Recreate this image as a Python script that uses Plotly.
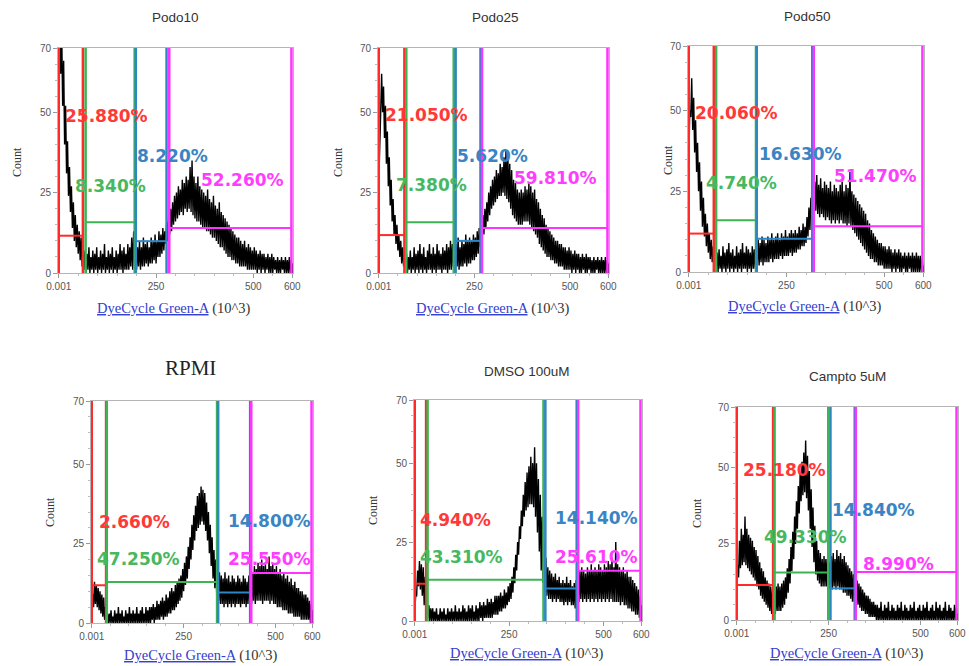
import plotly.graph_objects as go

# ---------------- data ----------------
# Each histogram is described by the lower and upper envelope of its noisy
# trace in bins of 5 (x 10^3) DyeCycle Green-A units, starting at 0.
bin_width = 5

podo10_low = [70, 62, 52, 40, 31, 24, 19, 14, 10, 8, 6, 4, 2, 1,
              0, 1, 0, 1, 0, 1, 0, 1, 0, 1, 0, 1, 0, 1, 0, 1, 0, 1, 1, 0, 1, 1, 1, 2, 1, 2,
              1, 2, 1, 2, 2, 3, 2, 3, 3, 4, 3, 5, 5, 6, 7, 9,
              10, 12, 13, 15, 16, 17, 18, 19, 18, 20, 19, 20, 19, 18, 17, 16, 16, 15, 14, 14,
              13, 13, 12, 11, 11, 10, 9, 8, 8, 7, 6, 5, 5, 4, 4, 3, 3, 2, 2, 2, 2, 1, 1, 1,
              1, 1, 0, 1, 0, 1, 0, 1, 0, 0, 0, 1, 0, 0, 0, 1, 0, 0, 0, 0, 0]
podo10_high = [80, 75, 66, 52, 41, 33, 27, 22, 18, 15, 13, 11, 9, 7,
               6, 8, 5, 7, 6, 8, 5, 7, 6, 9, 5, 7, 6, 8, 5, 7, 6, 9, 7, 8, 6, 9, 8, 11, 13, 9,
               8, 10, 8, 11, 9, 10, 8, 11, 10, 12, 10, 13, 12, 14, 13, 16,
               18, 20, 22, 24, 25, 27, 26, 29, 28, 30, 29, 33, 35, 30, 28, 30, 27, 26, 25, 24,
               26, 23, 22, 24, 21, 20, 22, 19, 18, 17, 16, 15, 14, 13, 12, 11, 11, 10, 9, 10,
               8, 9, 8, 7, 8, 7, 6, 7, 6, 6, 5, 6, 5, 6, 5, 4, 5, 4, 5, 4, 5, 4, 5, 4, 3]

podo25_low = [28, 50, 50, 42, 34, 27, 21, 16, 12, 9, 7, 5, 3, 2, 1, 0,
              1, 0, 1, 0, 1, 0, 1, 0, 1, 0, 1, 1, 0, 1, 0, 1, 1, 0, 1, 1, 0, 1, 1, 2,
              1, 2, 1, 2, 2, 3, 2, 3, 3, 4, 4, 5, 6, 8,
              10, 12, 14, 16, 18, 20, 21, 22, 23, 24, 24, 25, 24, 23, 22, 20, 18, 17, 16, 15,
              15, 15, 16, 16, 16, 15, 14, 13, 12, 11, 9, 8, 7, 6, 5, 5, 4, 4, 3, 3, 2, 2, 2,
              1, 1, 1, 1, 0, 1, 0, 1, 0, 0, 1, 0, 0, 1, 0, 0, 0, 1, 0, 0, 0, 0, 0, 0]
podo25_high = [45, 62, 58, 52, 44, 36, 29, 23, 18, 15, 12, 10, 8, 7, 6, 5,
               7, 5, 8, 6, 7, 9, 6, 8, 5, 7, 9, 6, 8, 6, 9, 7, 6, 8, 7, 9, 8, 10, 9, 11,
               9, 11, 8, 10, 9, 12, 10, 11, 10, 12, 11, 13, 14, 16,
               18, 20, 22, 25, 27, 29, 30, 32, 31, 34, 33, 36, 38, 37, 34, 32, 29, 28, 26, 25,
               26, 25, 27, 26, 28, 27, 25, 26, 23, 22, 20, 18, 17, 15, 14, 13, 12, 11, 10, 10,
               9, 9, 8, 8, 7, 8, 7, 6, 7, 6, 6, 5, 6, 5, 6, 5, 5, 4, 5, 4, 5, 4, 5, 4, 5, 4, 3]

podo50_low = [33, 48, 44, 37, 31, 25, 19, 14, 11, 8, 6, 4, 3, 2, 1,
              0, 1, 0, 1, 0, 1, 0, 1, 0, 1, 0, 1, 0, 1, 1, 0, 1, 0, 1, 1,
              2, 2, 3, 2, 3, 3, 3, 4, 3, 4, 4, 4, 5, 4, 5, 5, 5, 6, 5, 6, 6, 7, 7, 8, 8, 9, 11,
              13, 16,
              18, 19, 18, 17, 18, 17, 16, 17, 16, 15, 16, 15, 16, 15, 16, 15, 15, 14, 15, 14,
              13, 12, 11, 10, 9, 8, 7, 6, 5, 4, 4, 3, 3, 2, 2, 2, 1, 1, 1, 1, 0, 1, 0, 1, 0,
              0, 1, 0, 0, 1, 0, 0, 0, 0, 0, 0, 0]
podo50_high = [50, 60, 54, 47, 40, 34, 28, 23, 18, 15, 12, 10, 8, 7, 6,
               7, 5, 8, 6, 7, 9, 6, 7, 5, 8, 6, 7, 9, 6, 8, 7, 6, 8, 7, 9,
               10, 9, 11, 10, 9, 11, 10, 12, 10, 11, 12, 10, 12, 11, 13, 11, 12, 13, 12, 13, 12,
               14, 13, 15, 14, 17, 20, 23, 27,
               28, 30, 27, 29, 26, 28, 27, 26, 28, 25, 27, 26, 25, 27, 28, 25, 27, 26, 31, 25,
               24, 23, 22, 21, 20, 19, 18, 16, 15, 13, 12, 11, 10, 9, 9, 8, 8, 7, 8, 7, 6, 7,
               6, 7, 6, 5, 6, 5, 6, 5, 6, 5, 6, 5, 5, 4, 2]

rpmi_low = [2, 5, 6, 5, 4, 3, 2, 1, 0,
            0, 0, 0, 0, 0, 0, 0, 0, 0, 0, 0, 0, 0, 0, 0, 0, 0, 0, 0, 0, 0, 0, 0,
            0, 1, 0, 1, 1, 1, 2, 1, 2, 2, 3, 3, 4, 4, 5, 6, 7, 8, 10, 12, 14, 17, 20, 23, 26,
            29, 30, 31, 32, 31, 29, 26, 22, 18, 14, 11, 9, 7, 6, 6, 5, 6, 5, 6, 5, 6, 5, 6,
            6, 5, 6, 6, 5, 6, 6, 6, 7, 6, 7, 7, 7, 6, 7, 7, 7, 6, 7, 6, 6, 5, 5, 5, 4, 4, 4,
            3, 3, 3, 2, 2, 2, 2, 1, 1, 1, 1, 1, 0, 0]
rpmi_high = [9, 13, 12, 11, 10, 9, 8, 5, 3,
             3, 4, 2, 4, 3, 5, 3, 4, 2, 4, 3, 5, 3, 4, 3, 5, 3, 4, 5, 3, 5, 4, 5,
             5, 6, 5, 7, 6, 7, 8, 7, 9, 8, 10, 11, 10, 12, 13, 14, 15, 17, 19, 21, 24, 27, 31,
             34, 37, 40, 41, 43, 42, 41, 38, 35, 31, 27, 23, 20, 18, 16, 15, 14, 16, 14, 15,
             13, 15, 14, 13, 15, 14, 13, 15, 14, 13, 15, 14, 16, 18, 17, 19, 18, 20, 18, 19,
             17, 21, 18, 19, 17, 18, 16, 17, 15, 16, 14, 15, 13, 14, 12, 13, 11, 11, 10, 10,
             9, 9, 8, 7, 6, 4]

dmso_low = [3, 8, 11, 10, 8, 5, 3, 1, 0,
            0, 0, 0, 0, 0, 0, 0, 0, 0, 0, 0, 0, 0, 0, 0, 0, 0, 0, 0, 0, 0, 0, 0, 0, 0, 0,
            1, 0, 1, 1, 1, 1, 1, 2, 2,
            2, 3, 3, 4, 4, 5, 6, 7, 9, 12, 16, 21, 26, 30, 33, 35, 36, 37, 37, 36, 33, 28, 22,
            16, 12, 9, 8, 7, 7, 6, 7, 6, 7, 6, 6, 5, 6, 5, 6, 5, 5, 4, 5, 6, 7, 6, 7, 6, 7, 6,
            7, 6, 7, 6, 7, 6, 7, 6, 7, 6, 7, 6, 6, 6, 6, 5, 6, 5, 5, 4, 4, 3, 3, 2, 2, 1, 0]
dmso_high = [8, 16, 19, 18, 17, 14, 9, 5, 4,
             4, 3, 4, 2, 4, 3, 4, 2, 4, 3, 4, 3, 5, 3, 4, 3, 5, 4, 3, 5, 4, 5, 3, 5, 4, 6,
             5, 6, 5, 7, 6, 7, 6, 8, 8,
             8, 9, 8, 10, 9, 11, 12, 14, 17, 21, 25, 30, 35, 40, 44, 47, 49, 52, 50, 55, 50, 45,
             40, 33, 25, 20, 17, 16, 15, 14, 15, 13, 14, 12, 13, 12, 14, 12, 13, 11, 12, 13, 15,
             16, 17, 16, 15, 17, 16, 18, 16, 17, 16, 18, 17, 16, 18, 17, 19, 18, 20, 17, 25, 18,
             17, 16, 17, 15, 16, 14, 14, 13, 12, 11, 10, 8, 5]

campto_low = [10, 14, 17, 18, 19, 18, 17, 16, 15, 14, 13, 11, 10, 8, 7, 6, 5, 4, 3, 2,
              2, 2, 3, 3, 3, 4, 5, 7, 9, 12, 16, 20, 25, 30, 35, 39, 41, 42, 40, 36,
              30, 24, 19, 15, 13, 12, 11, 11, 11, 11, 10, 10, 10, 11, 10, 11, 10, 10, 9, 9,
              8, 8, 7, 6, 6, 5, 5, 4, 3, 3, 2, 2, 1, 1, 1, 1,
              0, 0, 0, 0, 0, 0, 0, 0, 0, 0, 0, 0, 0, 0, 0, 0, 0, 0, 0, 0, 0, 0, 0, 0, 0, 0,
              0, 0, 0, 0, 0, 0, 0, 0, 0, 0, 0, 0, 0, 0, 0, 0, 0, 0, 0]
campto_high = [18, 26, 30, 28, 34, 30, 28, 27, 26, 24, 23, 21, 19, 17, 16, 14, 13, 12, 11, 10,
               10, 11, 12, 11, 12, 13, 14, 17, 20, 24, 29, 34, 39, 44, 48, 52, 55, 59, 54, 49,
               43, 37, 31, 26, 23, 22, 20, 21, 20, 21, 19, 21, 22, 20, 23, 21, 22, 20, 21, 19,
               18, 17, 16, 15, 14, 13, 12, 11, 10, 9, 8, 8, 7, 6, 6, 5,
               5, 4, 6, 3, 5, 4, 6, 3, 5, 4, 3, 5, 4, 6, 3, 5, 4, 3, 5, 4, 6, 3, 4, 5, 3, 5,
               4, 6, 3, 4, 5, 3, 6, 4, 5, 3, 4, 6, 3, 5, 4, 3, 5, 4, 2]

panel_titles = ["Podo10", "Podo25", "Podo50", "RPMI", "DMSO 100uM", "Campto 5uM"]

# gate order: red, green, blue, magenta
podo10_gate_lo = [0, 69, 198, 284]
podo10_gate_hi = [62, 195, 277, 598]
podo10_gate_level = [11.6, 15.8, 9.9, 14.0]
podo10_pct = ["25.880%", "8.340%", "8.220%", "52.260%"]

podo25_gate_lo = [0, 72, 201, 270]
podo25_gate_hi = [67, 196, 266, 598]
podo25_gate_level = [11.8, 15.8, 10.0, 14.0]
podo25_pct = ["21.050%", "7.380%", "5.620%", "59.810%"]

podo50_gate_lo = [0, 70, 174, 320]
podo50_gate_hi = [64, 172, 316, 598]
podo50_gate_level = [11.9, 16.0, 10.3, 14.2]
podo50_pct = ["20.060%", "4.740%", "16.630%", "51.470%"]

rpmi_gate_lo = [0, 41, 344, 434]
rpmi_gate_hi = [39, 341, 431, 598]
rpmi_gate_level = [11.9, 12.9, 9.6, 15.8]
rpmi_pct = ["2.660%", "47.250%", "14.800%", "25.550%"]

dmso_gate_lo = [0, 34, 346, 433]
dmso_gate_hi = [30, 341, 429, 598]
dmso_gate_level = [11.8, 13.1, 10.3, 15.9]
dmso_pct = ["4.940%", "43.310%", "14.140%", "25.610%"]

campto_gate_lo = [0, 103, 255, 324]
campto_gate_hi = [99, 249, 321, 598]
campto_gate_level = [11.5, 15.6, 10.4, 15.8]
campto_pct = ["25.180%", "49.330%", "14.840%", "8.990%"]

x_tick_vals = [0, 250, 500, 600]
x_tick_text = ["0.001", "250", "500", "600"]
y_tick_vals = [0, 25, 50, 70]
y_max = 70
x_max = 600

# ---------------- layout / styling ----------------
W, H = 969, 666
gate_colors = ["#ff2a2a", "#3db454", "#2f86c4", "#ff33ff"]
label_colors = ["#ff3838", "#48b860", "#3a84c4", "#ff3dff"]

panels = [
    dict(low=podo10_low, high=podo10_high, lo=podo10_gate_lo, hi=podo10_gate_hi, lvl=podo10_gate_level, pct=podo10_pct),
    dict(low=podo25_low, high=podo25_high, lo=podo25_gate_lo, hi=podo25_gate_hi, lvl=podo25_gate_level, pct=podo25_pct),
    dict(low=podo50_low, high=podo50_high, lo=podo50_gate_lo, hi=podo50_gate_hi, lvl=podo50_gate_level, pct=podo50_pct),
    dict(low=rpmi_low, high=rpmi_high, lo=rpmi_gate_lo, hi=rpmi_gate_hi, lvl=rpmi_gate_level, pct=rpmi_pct),
    dict(low=dmso_low, high=dmso_high, lo=dmso_gate_lo, hi=dmso_gate_hi, lvl=dmso_gate_level, pct=dmso_pct),
    dict(low=campto_low, high=campto_high, lo=campto_gate_lo, hi=campto_gate_hi, lvl=campto_gate_level, pct=campto_pct),
]

# plot-area pixel boxes (left, right, top, bottom)
boxes = [(58, 293, 48, 273), (378, 609, 48, 273), (688, 924, 46, 272),
         (91, 313, 401, 623), (414, 642, 400, 621), (736, 958, 407, 620)]
title_pos = [(175, 18), (495, 18), (807, 16), (190, 368), (527, 371), (847, 377)]
count_pos = [(17, 162), (338, 162), (668, 160), (50, 512), (373, 510), (697, 513)]
xlab_pos = [(174, 308), (493, 308), (805, 306), (201, 655), (527, 653), (847, 653)]
# label anchor positions in data units (x left edge, y middle)
label_pos = [
    [(10, 49), (37, 27.2), (196, 36.3), (361, 29)],
    [(11, 49.3), (41, 27.5), (199, 36.3), (349, 29.6)],
    [(11, 49.1), (38, 27.6), (174, 36.5), (367, 29.7)],
    [(13, 31.9), (9, 20.3), (364, 32.1), (364, 20.3)],
    [(9, 31.9), (9, 20.3), (365, 32.5), (365, 20.3)],
    [(11, 49.3), (69, 27.3), (254, 36), (339, 18.5)],
]

fig = go.Figure()
annotations = []
layout_axes = {}

for i, p in enumerate(panels):
    xa = "x" if i == 0 else f"x{i+1}"
    ya = "y" if i == 0 else f"y{i+1}"
    l, r, t, b = boxes[i]
    n = min(len(p["low"]), len(p["high"]))
    hx, hy = [], []
    for k in range(n):
        hx += [k * bin_width, k * bin_width + bin_width / 2]
        hy += [p["low"][k], p["high"][k]]
    fig.add_trace(go.Scatter(x=hx, y=hy, mode="lines",
                             line=dict(color="black", width=1.4), xaxis=xa, yaxis=ya,
                             hoverinfo="skip"))
    for j in range(4):
        lo, hi, lv = p["lo"][j], p["hi"][j], p["lvl"][j]
        fig.add_trace(go.Scatter(x=[lo, lo, None, hi, hi], y=[0, y_max, None, 0, y_max],
                                 mode="lines", line=dict(color=gate_colors[j], width=2.5),
                                 xaxis=xa, yaxis=ya, hoverinfo="skip"))
        fig.add_trace(go.Scatter(x=[lo, hi], y=[lv, lv], mode="lines",
                                 line=dict(color=gate_colors[j], width=2),
                                 xaxis=xa, yaxis=ya, hoverinfo="skip"))
        lx, ly = label_pos[i][j]
        annotations.append(dict(x=lx, y=ly, xref=xa, yref=ya, text=f"<b>{p['pct'][j]}</b>",
                                showarrow=False, xanchor="left", yanchor="middle",
                                font=dict(family="DejaVu Sans", size=17, color=label_colors[j])))

    axkey_x = "xaxis" if i == 0 else f"xaxis{i+1}"
    axkey_y = "yaxis" if i == 0 else f"yaxis{i+1}"
    layout_axes[axkey_x] = dict(
        domain=[l / W, r / W], range=[-2, x_max + 2], anchor=ya, automargin=False,
        tickmode="array", tickvals=x_tick_vals, ticktext=x_tick_text,
        ticks="outside", ticklen=4, tickcolor="#999", showgrid=False, zeroline=False,
        showline=True, linecolor="#b5b5b5", linewidth=1, mirror=True,
        tickfont=dict(family="Liberation Sans", size=10, color="#555"),
        minor=dict(ticks="outside", ticklen=2, tickcolor="#bbb", dtick=50, tick0=0),
    )
    layout_axes[axkey_y] = dict(
        domain=[1 - b / H, 1 - t / H], range=[0, y_max], anchor=xa, automargin=False,
        tickmode="array", tickvals=y_tick_vals,
        ticks="outside", ticklen=4, tickcolor="#999", showgrid=False, zeroline=False,
        showline=True, linecolor="#b5b5b5", linewidth=1, mirror=True,
        tickfont=dict(family="Liberation Sans", size=10, color="#555"),
        minor=dict(ticks="outside", ticklen=2, tickcolor="#bbb", dtick=5, tick0=0),
    )

    tx, ty = title_pos[i]
    if panel_titles[i] == "RPMI":
        tfont = dict(family="Liberation Serif", size=21, color="#222")
    else:
        tfont = dict(family="Liberation Sans", size=13.5, color="#333")
    annotations.append(dict(x=tx / W, y=1 - ty / H, xref="paper", yref="paper",
                            text=panel_titles[i], showarrow=False,
                            xanchor="center", yanchor="middle", font=tfont))
    cx, cy = count_pos[i]
    annotations.append(dict(x=cx / W, y=1 - cy / H, xref="paper", yref="paper",
                            text="Count", textangle=-90, showarrow=False,
                            xanchor="center", yanchor="middle",
                            font=dict(family="Liberation Serif", size=12, color="#333")))
    lx, ly = xlab_pos[i]
    annotations.append(dict(x=lx / W, y=1 - ly / H, xref="paper", yref="paper",
                            text='<span style="color:#3340d0;text-decoration:underline">DyeCycle Green-A</span> (10^3)',
                            showarrow=False, xanchor="center", yanchor="middle",
                            font=dict(family="Liberation Serif", size=14.5, color="#333")))

fig.update_layout(width=W, height=H, margin=dict(l=0, r=0, t=0, b=0, autoexpand=False),
                  paper_bgcolor="white", plot_bgcolor="white", showlegend=False,
                  annotations=annotations, **layout_axes)

fig.write_html("out.html", config={"displayModeBar": False},
               post_script="document.body.style.margin='0px';document.body.style.padding='0px';document.body.style.overflow='hidden';")
